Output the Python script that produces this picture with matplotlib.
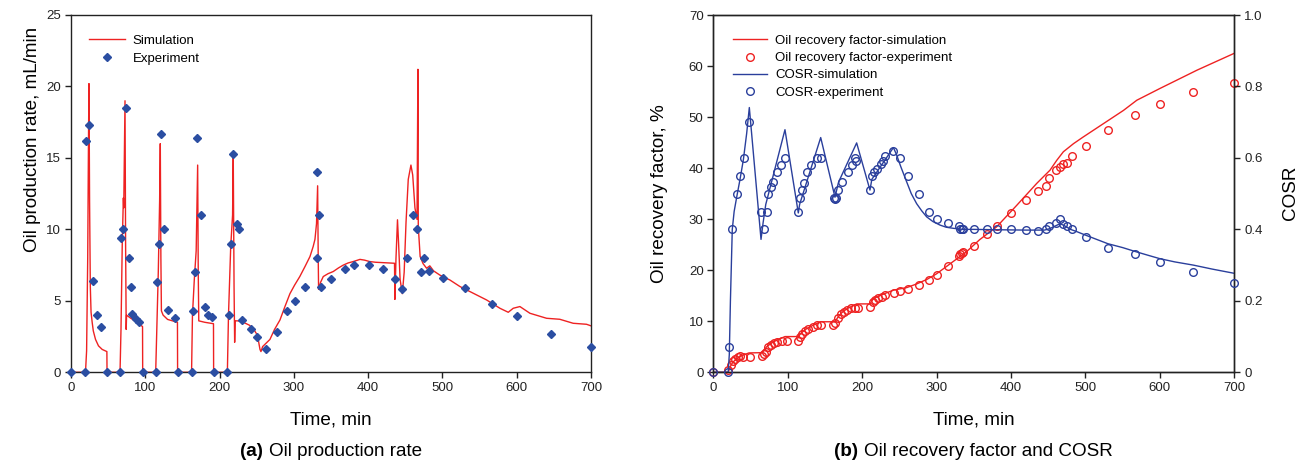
import matplotlib
matplotlib.use("Agg")
import matplotlib.pyplot as plt
from matplotlib.lines import Line2D
from matplotlib.offsetbox import AnchoredOffsetbox, HPacker, TextArea

plt.rcParams["font.family"] = ["Liberation Sans", "DejaVu Sans"]

# (a) oil production rate, mL/min
rate_exp_t = [0, 19, 20.2, 24.7, 30.1, 35.5, 40.4, 48.9, 66.4, 67.3, 70, 73.6, 77.6, 80.8, 82.5,
              87.1, 91.1, 96.5, 114.4, 116.2, 118, 121.6, 125.6, 130.6, 140.4, 144.4, 162.4,
              164.6, 166.9, 170, 175.4, 180.3, 184.8, 190.2, 192.9, 210.4, 213, 215.3, 217.6,
              223.4, 226.5, 230.2, 242, 250.5, 262.9, 276.8, 291.1, 301, 315.3, 330.7, 331.5,
              334.2, 336.5, 350.4, 368.4, 380.5, 400.7, 420.3, 436.5, 445.9, 452.6, 460.7,
              465.3, 470.7, 475.5, 481.4, 500.5, 530.3, 567, 600.7, 645.6, 700]
rate_exp_v = [0, 0, 16.2, 17.3, 6.4, 4.0, 3.15, 0, 0, 9.4, 10.0, 18.5, 8.0, 6.0, 4.1,
              3.7, 3.5, 0, 0, 6.35, 9.0, 16.7, 10.0, 4.36, 3.78, 0, 0,
              4.27, 7.0, 16.4, 11.0, 4.6, 4.0, 3.9, 0, 0, 4.0, 9.0, 15.3,
              10.4, 10.0, 3.66, 3.0, 2.45, 1.65, 2.85, 4.3, 5.0, 5.97, 8.0, 14.0,
              11.0, 6.0, 6.56, 7.2, 7.5, 7.5, 7.23, 6.56, 5.86, 8.0, 11.0,
              10.0, 7.0, 8.0, 7.1, 6.58, 5.88, 4.78, 3.94, 2.66, 1.8]

rate_sim_t = [0, 19.5, 21, 22.5, 23.5, 24.2, 25, 26, 27, 28.5, 30, 33, 37, 42, 48.3, 48.5,
              66, 67.3, 69, 70.5, 71, 72.7, 73.5, 74.3, 74.8, 80, 90, 96.3, 96.5,
              114, 115.5, 117.5, 119.3, 120.2, 121, 121.7, 124, 130, 143.3, 143.5,
              162.3, 163.5, 166, 168.5, 170.5, 171.3, 172, 180, 191.8, 192,
              210.5, 212, 215, 217.5, 218.4, 219.5, 220.3, 221, 225, 232, 240, 246, 251,
              254.4, 255.7, 258, 261, 267.8, 274, 281.3, 288, 294.7, 301, 308, 315,
              321.7, 326, 328.4, 330.5, 332, 332.8, 333.3, 336, 339.6, 346, 353, 360,
              366.5, 373, 380, 389, 395, 402, 410, 418, 428, 435.5, 436, 437.5, 439.5,
              441, 443, 446, 448.5, 451, 454, 457.6, 460, 463, 465.8, 467, 467.5, 470,
              474, 478.7, 483, 488, 496.6, 510, 523.6, 541.5, 559.5, 577.4, 588.6,
              595.3, 604.3, 617.8, 640.2, 658, 676, 694, 700]
rate_sim_v = [0, 0, 1.5, 8, 16, 20.2, 12, 6, 4.2, 3.5, 2.9, 2.3, 1.85, 1.6, 1.45, 0,
              0, 3, 9, 12.2, 11.5, 19.0, 9, 3.0, 4.0, 3.8, 3.45, 3.2, 0,
              0, 3, 7, 12, 16.0, 8, 4.3, 4.0, 3.7, 3.5, 0,
              0, 4, 6.5, 8.5, 14.5, 7, 3.6, 3.5, 3.4, 0,
              0, 4, 8.8, 11, 15.2, 6, 2.1, 3.6, 3.6, 3.5, 3.3, 3.0, 2.6,
              1.6, 1.45, 1.8, 1.95, 2.3, 3.0, 3.66, 4.6, 5.5, 6.1, 6.7, 7.4,
              8.1, 8.8, 9.3, 10.4, 13.05, 8, 5.8, 6.3, 6.7, 6.9, 7.05, 7.3,
              7.5, 7.65, 7.75, 7.9, 7.85, 7.75, 7.7, 7.68, 7.65, 7.63, 5.1, 8, 10.67,
              9, 6.5, 5.5, 7, 10.5, 13.5, 14.5, 13.8, 11.5, 10.7, 21.2, 10.2, 8.1,
              7.6, 7.28, 7.45, 7.1, 6.8, 6.46, 6.0, 5.53, 5.06, 4.48, 4.2,
              4.48, 4.6, 4.13, 3.78, 3.71, 3.43, 3.36, 3.25]

# (b) oil recovery factor (%) and COSR, experiment sampling times
exp_t = [0, 19.3, 21.5, 25.5, 31.4, 35.9, 40.8, 48.4, 64.5, 68.5, 71.7, 73.9, 77.5, 80.6, 86,
         91, 96.7, 114.2, 116.5, 118.8, 121.9, 126.3, 131.3, 139.3, 144.7, 162.6, 164, 165.5,
         167.1, 172.5, 180.5, 185.9, 190, 191.3, 210.5, 212.8, 215.9, 219.5, 224.9, 227.6,
         230.7, 241.9, 250.8, 262, 276.4, 290.2, 301, 315, 330, 332, 334, 336, 350.2, 368.2,
         380.7, 400, 420, 436.7, 446.6, 451.4, 460.4, 465.8, 470.3, 475.6, 481.5, 500.3,
         530.3, 567, 599.8, 645, 699.6]
cosr_exp = [0, 0, 0.07, 0.40, 0.50, 0.549, 0.60, 0.70, 0.45, 0.40, 0.45, 0.50, 0.519, 0.533, 0.561,
            0.58, 0.60, 0.45, 0.488, 0.51, 0.53, 0.561, 0.58, 0.60, 0.60, 0.488, 0.485, 0.488,
            0.51, 0.533, 0.561, 0.58, 0.60, 0.59, 0.51, 0.549, 0.561, 0.570, 0.582, 0.59,
            0.606, 0.62, 0.60, 0.549, 0.50, 0.45, 0.43, 0.419, 0.41, 0.40, 0.40, 0.40, 0.40, 0.40,
            0.40, 0.40, 0.398, 0.396, 0.40, 0.409, 0.418, 0.43, 0.416, 0.409, 0.40, 0.379,
            0.349, 0.33, 0.309, 0.28, 0.249]
orf_exp_t = [0, 19.3, 23.4, 26, 29.6, 32.7, 35.9, 39.5, 49.3, 65.8, 68.1, 70.8, 73.9, 77.5, 81.6,
             86, 91.9, 98.6, 114.2, 116.5, 119.6, 123.2, 127.6, 134.4, 138.9, 144.3, 161.3, 164,
             167.1, 171.2, 175.6, 180, 184.6, 190.8, 194, 210.5, 214.1, 217.2, 221.7, 226.2,
             230.7, 242.8, 250.8, 262, 276.4, 290.2, 301, 315, 330, 332, 334, 336, 350.2, 368.2,
             380.7, 400, 420, 436.7, 446.6, 451.4, 460.4, 465.8, 470.3, 475.6, 481.5, 500.3,
             530.3, 567, 599.8, 645, 699.6]
orf_exp = [0, 0.5, 1.43, 2.3, 2.7, 2.9, 3.2, 3.05, 3.05, 3.2, 3.6, 4.0, 5.0, 5.3, 5.7,
           6.0, 6.2, 6.2, 6.2, 7.0, 7.6, 8.1, 8.4, 8.9, 9.26, 9.26, 9.26, 9.6,
           10.6, 11.4, 11.9, 12.2, 12.5, 12.5, 12.5, 12.8, 13.8, 14.1, 14.5, 14.8,
           15.1, 15.6, 16.0, 16.4, 17.1, 18.1, 19.0, 20.9, 22.8, 23.2, 23.4, 23.6, 24.8, 27.0,
           28.6, 31.2, 33.7, 35.5, 36.5, 38.0, 39.6, 40.2, 40.8, 41.1, 42.3, 44.4,
           47.4, 50.5, 52.6, 54.9, 56.6]

cosr_sim_t = [0, 20, 21.5, 23, 25.5, 28, 31.4, 35.9, 40.4, 44.8, 48.4, 64.1, 67, 70.5, 73, 96.3,
              114.2, 116, 144.3, 163.5, 168, 170, 192.6, 210.5, 213, 242, 246, 252, 259.8, 266,
              273.2, 280, 286.7, 295, 304.6, 313, 322.5, 335, 350, 380, 420, 445, 452, 460,
              466, 472, 480, 488, 500, 515, 530, 550, 567, 585, 600, 620, 645, 670, 700]
cosr_sim = [0, 0, 0.05, 0.2, 0.40, 0.45, 0.49, 0.54, 0.595, 0.668, 0.741, 0.372, 0.42, 0.47, 0.49,
            0.679, 0.446, 0.47, 0.657, 0.49, 0.53, 0.54, 0.642, 0.51, 0.54, 0.629, 0.61, 0.575,
            0.533, 0.50, 0.472, 0.452, 0.435, 0.422, 0.412, 0.406, 0.403, 0.40, 0.40, 0.399,
            0.398, 0.398, 0.402, 0.41, 0.416, 0.41, 0.40, 0.394, 0.384, 0.372, 0.36, 0.349,
            0.338, 0.327, 0.318, 0.309, 0.30, 0.289, 0.277]

orf_sim_t = [0, 20, 22.8, 25, 27.2, 31.8, 36, 40.4, 48, 64, 68, 71.7, 78, 85.2, 96.3, 114.2, 118,
             125, 135, 144.3, 163.5, 167, 172, 180, 192.6, 210.5, 214, 220, 230, 242, 260, 273,
             287, 300, 313, 326, 340, 358, 380.7, 407.6, 434.5, 452.4, 461.3, 470.3, 484, 497,
             524, 551, 569, 600, 650, 700]
orf_sim = [0, 0, 1.1, 1.7, 2.1, 2.7, 3.1, 3.4, 3.8, 3.84, 4.3, 5.0, 5.7, 6.3, 7.0, 7.0, 7.7,
           8.5, 9.3, 9.9, 9.9, 10.7, 11.6, 12.5, 13.4, 13.4, 14.2, 14.8, 15.4, 16.1, 16.6, 17.3,
           18.2, 19.3, 20.7, 22.1, 23.6, 26.0, 28.5, 32.7, 37.0, 39.6, 41.5, 43.2, 44.8, 46.1,
           48.7, 51.3, 53.3, 55.6, 59.2, 62.5]

RED = "#ee2222"
BLUE_D = "#2b4ea2"
BLUE = "#2a3f9c"
SPINE = "#222222"
TICK_FS = 9.5
LABEL_FS = 13.6
CIRCLE_MS = 5.5


def style_axes(ax):
    for sp in ax.spines.values():
        sp.set_color(SPINE)
        sp.set_linewidth(1.0)
    ax.tick_params(direction="out", length=4, width=1.0, color=SPINE,
                   labelsize=TICK_FS, labelcolor="#222222", pad=3)


fig = plt.figure(figsize=(12.97, 4.72), dpi=100)
W, H = 1297.0, 472.0
bottom = 1 - 372.3 / H
height = (372.3 - 15) / H

# ---- (a) ----
ax1 = fig.add_axes([71 / W, bottom, 520 / W, height])
ax1.plot(rate_sim_t, rate_sim_v, color=RED, lw=1.0, label="Simulation")
ax1.plot(rate_exp_t, rate_exp_v, ls="none", marker="D", ms=3.8, color=BLUE_D,
         label="Experiment", clip_on=False, zorder=3)
ax1.set_xlim(0, 700)
ax1.set_ylim(0, 25)
ax1.set_xticks(range(0, 701, 100))
ax1.set_yticks(range(0, 26, 5))
style_axes(ax1)
ax1.legend(loc="upper left", bbox_to_anchor=(0.0346, 0.945), frameon=False,
           fontsize=TICK_FS, borderaxespad=0, borderpad=0, handlelength=2.7,
           handletextpad=0.6, labelspacing=0.45)

# ---- (b) ----
ax2 = fig.add_axes([713.3 / W, bottom, 521 / W, height])
ax2r = ax2.twinx()
ax2.plot(orf_sim_t, orf_sim, color=RED, lw=1.0)
ax2.plot(orf_exp_t, orf_exp, ls="none", marker="o", ms=CIRCLE_MS, mfc="none", mec=RED,
         mew=1.0, clip_on=False, zorder=3)
ax2r.plot(cosr_sim_t, cosr_sim, color=BLUE, lw=1.0)
ax2r.plot(exp_t, cosr_exp, ls="none", marker="o", ms=CIRCLE_MS, mfc="none", mec=BLUE,
          mew=1.0, clip_on=False, zorder=3)
ax2.set_xlim(0, 700)
ax2.set_ylim(0, 70)
ax2r.set_ylim(0, 1.0)
ax2.set_xticks(range(0, 701, 100))
ax2.set_yticks(range(0, 71, 10))
ax2r.set_yticks([0, 0.2, 0.4, 0.6, 0.8, 1.0])
ax2r.set_yticklabels(["0", "0.2", "0.4", "0.6", "0.8", "1.0"])
style_axes(ax2)
style_axes(ax2r)

handles = [
    Line2D([], [], color=RED, lw=1.0),
    Line2D([], [], ls="none", marker="o", ms=CIRCLE_MS, mfc="none", mec=RED, mew=1.0),
    Line2D([], [], color=BLUE, lw=1.0),
    Line2D([], [], ls="none", marker="o", ms=CIRCLE_MS, mfc="none", mec=BLUE, mew=1.0),
]
labels = ["Oil recovery factor-simulation", "Oil recovery factor-experiment",
          "COSR-simulation", "COSR-experiment"]
ax2r.legend(handles, labels, loc="upper left", bbox_to_anchor=(0.038, 0.945),
            frameon=False, fontsize=TICK_FS, borderaxespad=0, borderpad=0,
            handlelength=2.6, handletextpad=0.6, labelspacing=0.38)

# axis labels
fig.text(33 / W, 1 - 139 / H, "Oil production rate, mL/min", rotation=90,
         ha="center", va="center", fontsize=LABEL_FS)
fig.text(660 / W, 1 - 194 / H, "Oil recovery factor, %", rotation=90,
         ha="center", va="center", fontsize=LABEL_FS)
fig.text(1290 / W, 1 - 193 / H, "COSR", rotation=90,
         ha="center", va="center", fontsize=LABEL_FS)
fig.text(331 / W, 1 - 420 / H, "Time, min", ha="center", va="center", fontsize=LABEL_FS)
fig.text(973.5 / W, 1 - 420 / H, "Time, min", ha="center", va="center", fontsize=LABEL_FS)


def caption(tag, text, xc):
    box = HPacker(children=[TextArea(tag, textprops=dict(fontweight="bold", fontsize=LABEL_FS)),
                            TextArea(text, textprops=dict(fontsize=LABEL_FS))],
                  align="baseline", pad=0, sep=4)
    anc = AnchoredOffsetbox(loc="center", child=box, frameon=False, pad=0, borderpad=0,
                            bbox_to_anchor=(xc / W, 1 - 451 / H),
                            bbox_transform=fig.transFigure)
    fig.add_artist(anc)


caption("(a)", "Oil production rate", 331)
caption("(b)", "Oil recovery factor and COSR", 973.5)

fig.savefig("out.png", dpi=100)
